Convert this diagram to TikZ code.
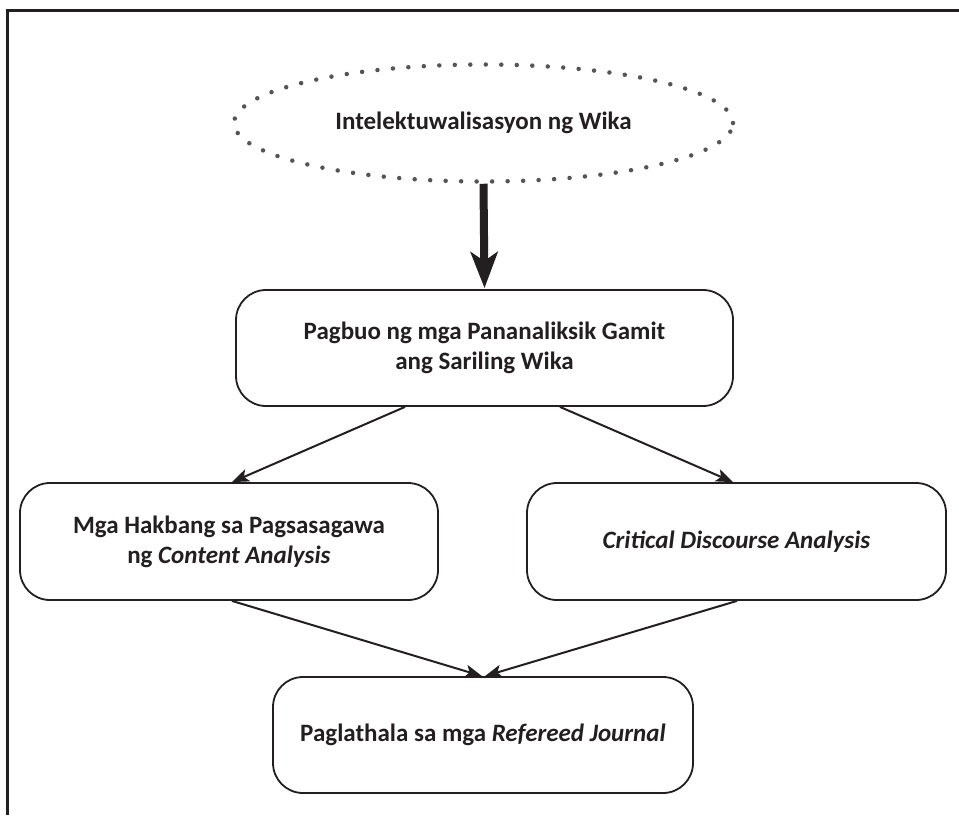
\documentclass[tikz,border=0pt]{standalone}
\usepackage{fontspec}
\setmainfont{Carlito}
\usetikzlibrary{shapes.geometric,arrows.meta}
\definecolor{ink}{HTML}{231F20}
\definecolor{dotgray}{HTML}{555555}
\begin{document}
\begin{tikzpicture}[x=1pt,y=1pt,
  box/.style={draw=ink, line width=1.8pt, rounded corners=30pt, inner sep=0pt,
    align=center, text=ink, font=\fontsize{25}{30}\selectfont\bfseries},
  link/.style={draw=ink, line width=2pt, -{Stealth[length=17pt,width=13pt,inset=4pt]}},
  bigarrow/.style={draw=ink, line width=8pt, -{Stealth[length=36pt,width=27pt,inset=9pt]}},
]
\useasboundingbox (0,0) rectangle (959,-815);
\draw[ink, line width=3pt] (7,-815) -- (7,-10) -- (959,-10);

\node[ellipse, draw=dotgray, line width=4.5pt, dash pattern=on 0pt off 15.5pt, line cap=round,
  minimum width=499pt, minimum height=117pt, inner sep=0pt, text=ink,
  font=\fontsize{25}{30}\selectfont\bfseries] (e) at (483.5,-123) {Intelektuwalisasyon ng Wika};

\node[box, minimum width=497pt, minimum height=116pt] (b1) at (484.5,-348)
  {Pagbuo ng mga Pananaliksik Gamit\\ang Sariling Wika};
\node[box, minimum width=418pt, minimum height=117pt] (b2) at (229,-541.5)
  {Mga Hakbang sa Pagsasagawa\\ng \textit{Content Analysis}};
\node[box, minimum width=419pt, minimum height=117pt] (b3) at (736.5,-541.5)
  {\textit{Critical Discourse Analysis}};
\node[box, minimum width=420pt, minimum height=116pt] (b4) at (483,-735)
  {Paglathala sa mga \textit{Refereed Journal}};

\draw[bigarrow] (e.south) -- ([yshift=1pt]b1.north);
\draw[link] ([xshift=-79.5pt]b1.south) -- ([xshift=3pt]b2.north);
\draw[link] ([xshift=75.5pt]b1.south) -- ([xshift=-3.5pt]b3.north);
\draw[link] ([xshift=3pt]b2.south) -- ([xshift=-1pt]b4.north);
\draw[link] ([xshift=0.5pt]b3.south) -- ([xshift=2pt]b4.north);
\end{tikzpicture}
\end{document}
